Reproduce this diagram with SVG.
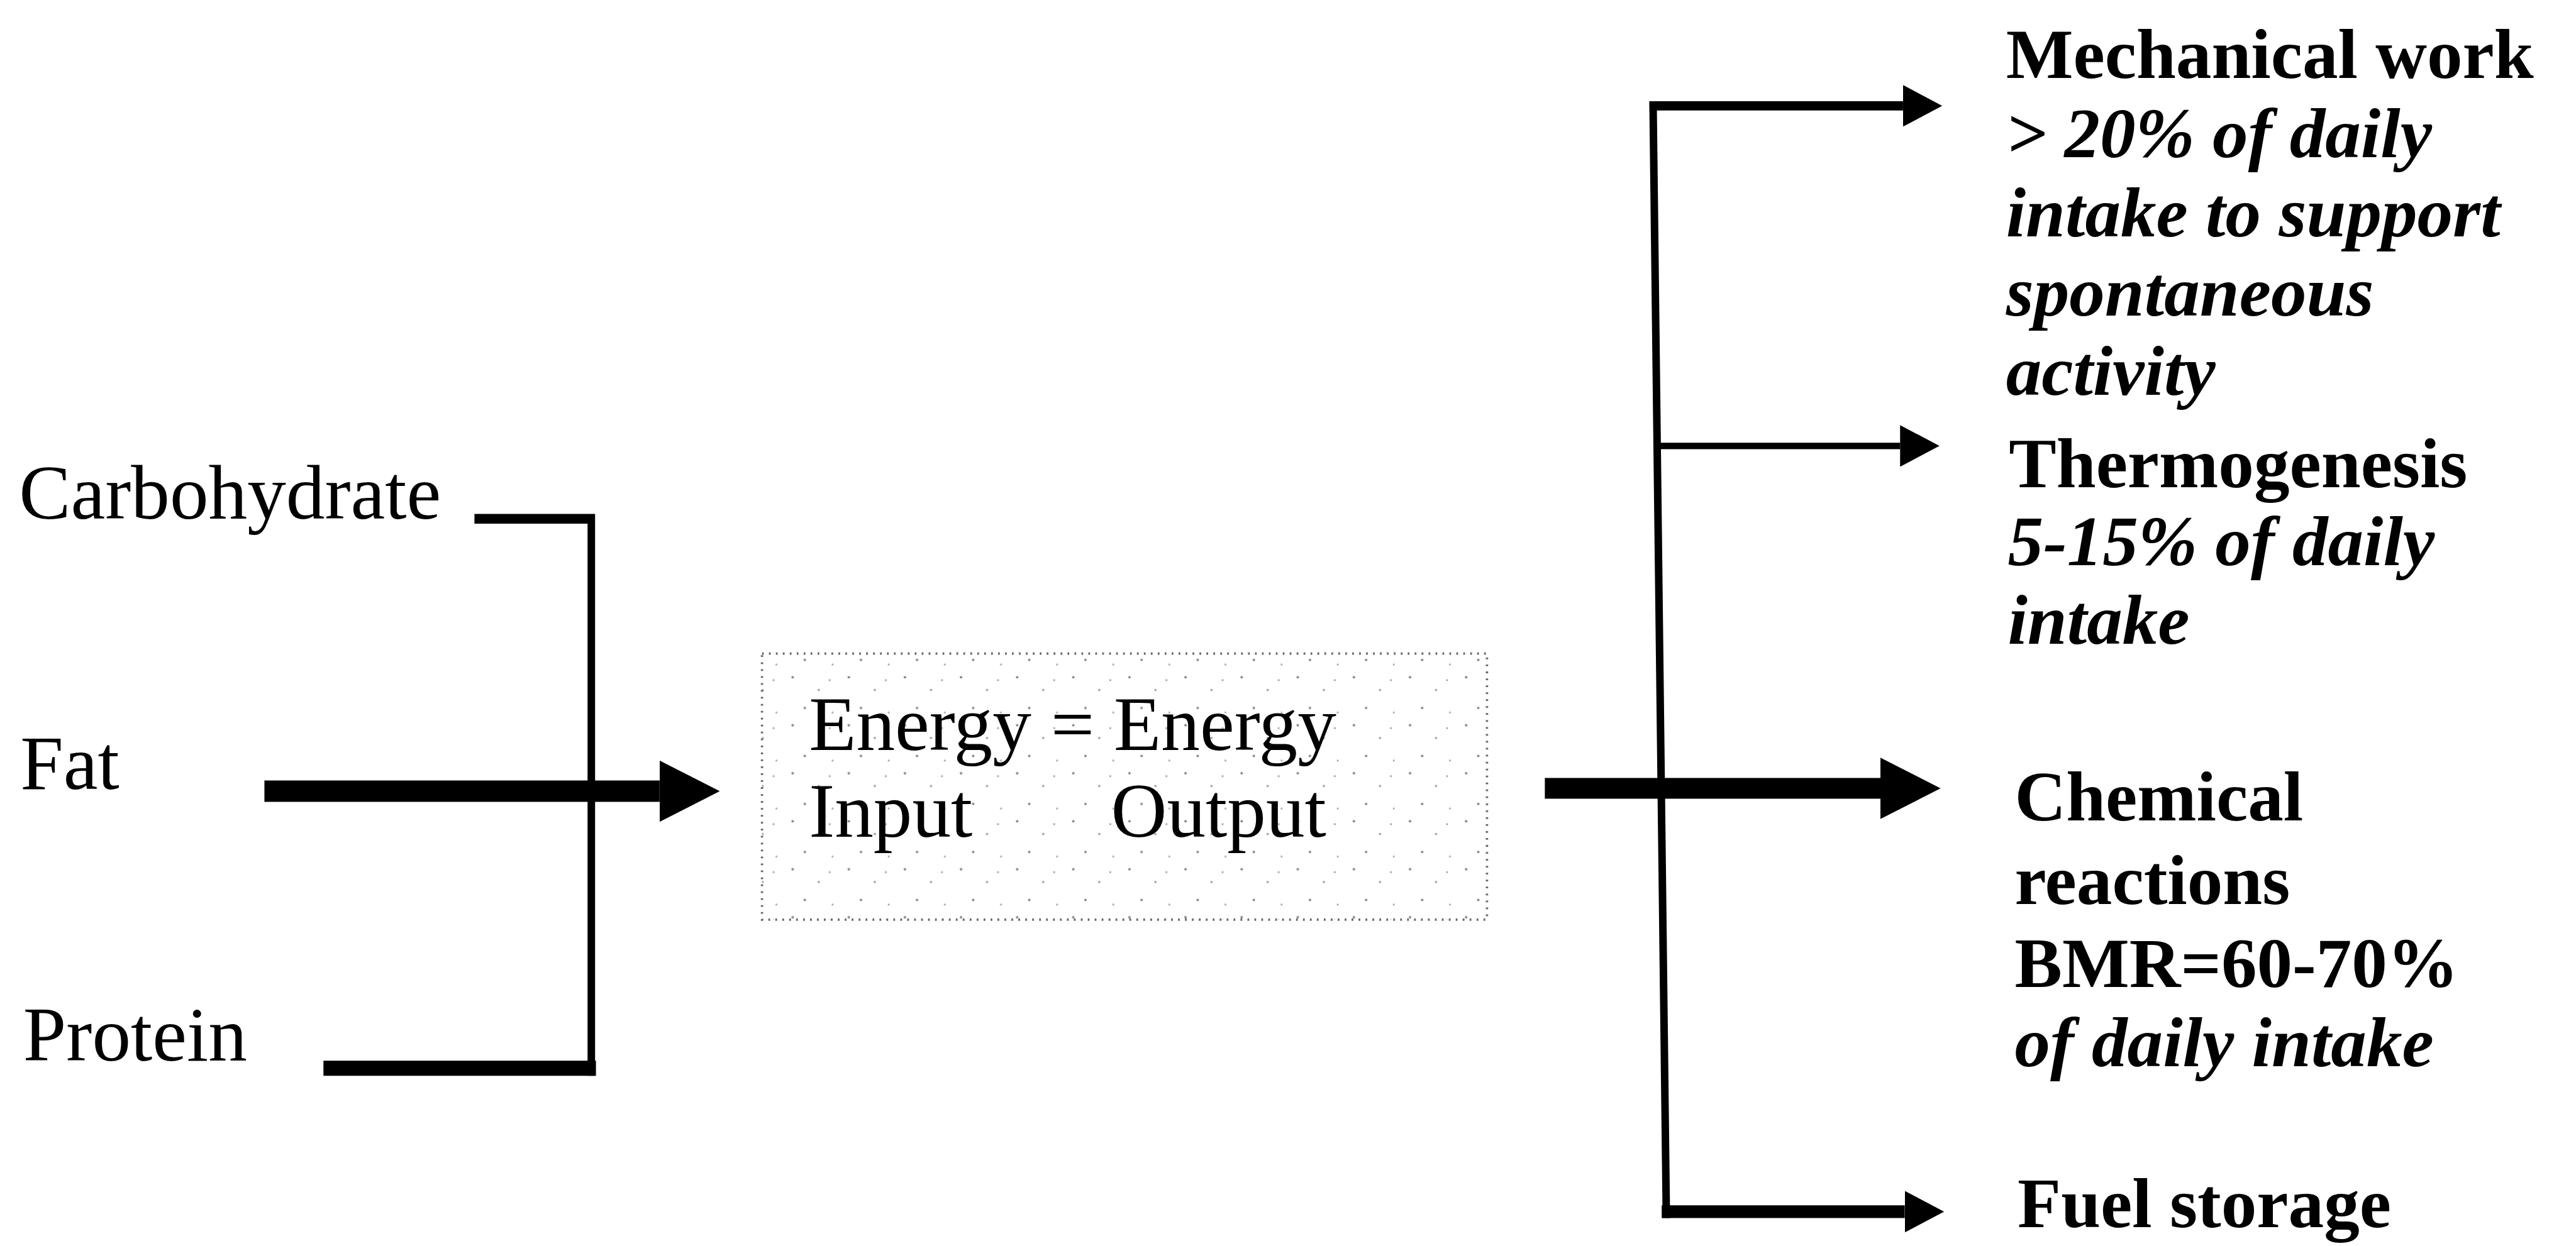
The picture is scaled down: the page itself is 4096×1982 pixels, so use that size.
<svg xmlns="http://www.w3.org/2000/svg" width="4096" height="1982" viewBox="0 0 4096 1982">
<style>
.lbl{font-family:"Liberation Serif","Times New Roman",serif;font-size:134px;fill:#000}
.rb{font-family:"Liberation Serif","Times New Roman",serif;font-size:123px;font-weight:bold;fill:#000}
.ri{font-family:"Liberation Serif","Times New Roman",serif;font-size:123px;font-weight:bold;font-style:italic;fill:#000}
.ln{stroke:#000;fill:none;stroke-linecap:butt}
</style>
<defs>
<marker id="headBig" markerUnits="userSpaceOnUse" markerWidth="104" markerHeight="106" viewBox="0 0 104 106" refX="0" refY="53" orient="auto">
<path d="M0,0 L104,53 L0,106 Z" fill="#000"/>
</marker>
<marker id="headSmall" markerUnits="userSpaceOnUse" markerWidth="68" markerHeight="72" viewBox="0 0 68 72" refX="0" refY="36" orient="auto">
<path d="M0,0 L68,36 L0,72 Z" fill="#000"/>
</marker>
<pattern id="speckle" patternUnits="userSpaceOnUse" width="97" height="83">
<circle cx="12" cy="9" r="2.2" fill="#888"/>
<circle cx="57" cy="31" r="2" fill="#999"/>
<circle cx="33" cy="62" r="2.2" fill="#888"/>
<circle cx="81" cy="70" r="1.8" fill="#aaa"/>
<circle cx="76" cy="14" r="1.8" fill="#aaa"/>
</pattern>
</defs>
<rect width="4096" height="1982" fill="#fff"/>
<g transform="scale(0.92)">
<g id="connectors">
<path class="ln" d="M820,897 H1028" stroke-width="17"/>
<path class="ln" d="M1022,889 V1860" stroke-width="13"/>
<path class="ln" d="M559,1847 H1030" stroke-width="26"/>
<path class="ln" d="M457,1368 H1140" stroke-width="37" marker-end="url(#headBig)"/>
<path class="ln" d="M2670,1363 H3250" stroke-width="36" marker-end="url(#headBig)"/>
<path class="ln" d="M2857,175 L2880,2106" stroke-width="13"/>
<path class="ln" d="M2851,183 H3289" stroke-width="16" marker-end="url(#headSmall)"/>
<path class="ln" d="M2866,771 H3284" stroke-width="11" marker-end="url(#headSmall)"/>
<path class="ln" d="M2872,2095 H3292" stroke-width="22" marker-end="url(#headSmall)"/>
</g>
<g id="carbohydrate"><text class="lbl" x="33" y="897">Carbohydrate</text></g>
<g id="fat"><text class="lbl" x="35" y="1364">Fat</text></g>
<g id="protein"><text class="lbl" x="40" y="1834">Protein</text></g>
<g id="energy-box">
<rect x="1317" y="1130" width="1253" height="460" fill="url(#speckle)" stroke="#666" stroke-width="4" stroke-dasharray="3 9"/>
<text class="lbl" x="1398" y="1297">Energy = Energy</text>
<text class="lbl" x="1398" y="1447">Input</text>
<text class="lbl" x="1920" y="1447">Output</text>
</g>
<g id="mechanical-work">
<text class="rb" x="3467" y="135">Mechanical work</text>
<text class="ri" x="3467" y="272">&gt; 20% of daily</text>
<text class="ri" x="3467" y="409">intake to support</text>
<text class="ri" x="3467" y="546">spontaneous</text>
<text class="ri" x="3467" y="683">activity</text>
</g>
<g id="thermogenesis">
<text class="rb" x="3472" y="842">Thermogenesis</text>
<text class="ri" x="3470" y="977">5-15% of daily</text>
<text class="ri" x="3470" y="1113">intake</text>
</g>
<g id="chemical-reactions">
<text class="rb" x="3482" y="1419">Chemical</text>
<text class="rb" x="3482" y="1563">reactions</text>
<text class="rb" x="3482" y="1707">BMR=60-70%</text>
<text class="ri" x="3482" y="1844">of daily intake</text>
</g>
<g id="fuel-storage"><text class="rb" x="3487" y="2122">Fuel storage</text></g>
</g>
</svg>
